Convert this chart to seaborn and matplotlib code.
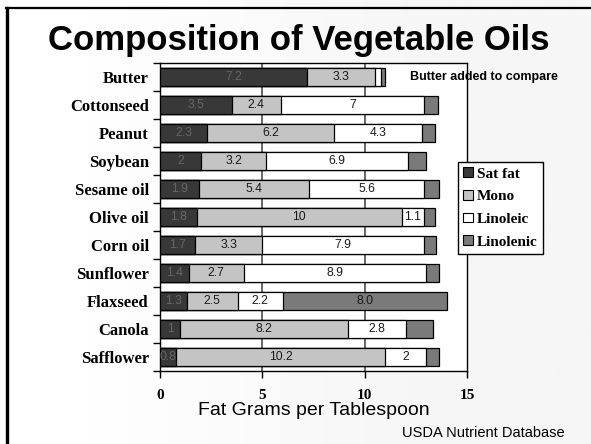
import numpy as np
import pandas as pd
import matplotlib
matplotlib.use("Agg")
import matplotlib.pyplot as plt
from matplotlib.patches import Patch
from matplotlib.lines import Line2D
import seaborn as sns

# ---- data ----
oils = ["Butter", "Cottonseed", "Peanut", "Soybean", "Sesame oil", "Olive oil",
        "Corn oil", "Sunflower", "Flaxseed", "Canola", "Safflower"]
sat_fat = [7.2, 3.5, 2.3, 2.0, 1.9, 1.8, 1.7, 1.4, 1.3, 1.0, 0.8]
mono = [3.3, 2.4, 6.2, 3.2, 5.4, 10.0, 3.3, 2.7, 2.5, 8.2, 10.2]
linoleic = [0.3, 7.0, 4.3, 6.9, 5.6, 1.1, 7.9, 8.9, 2.2, 2.8, 2.0]
linolenic = [0.2, 0.7, 0.65, 0.9, 0.75, 0.55, 0.6, 0.65, 8.0, 1.35, 0.65]
series_names = ["Sat fat", "Mono", "Linoleic", "Linolenic"]
series_colors = ["#383838", "#c4c4c4", "#ffffff", "#7a7a7a"]
sat_labels = ["7.2", "3.5", "2.3", "2", "1.9", "1.8", "1.7", "1.4", "1.3", "1", "0.8"]
mono_labels = ["3.3", "2.4", "6.2", "3.2", "5.4", "10", "3.3", "2.7", "2.5", "8.2", "10.2"]
linoleic_labels = ["", "7", "4.3", "6.9", "5.6", "1.1", "7.9", "8.9", "2.2", "2.8", "2"]
linolenic_labels = ["", "", "", "", "", "", "", "", "8.0", "", ""]
x_ticks = [0, 5, 10, 15]

W, H = 591, 444
fig = plt.figure(figsize=(W / 100, H / 100), dpi=100)

# background gradient (white on left, light grey on right)
bg = fig.add_axes([0, 0, 1, 1], zorder=-10)
grad = np.linspace(0, 1, 256)
grad = np.clip((grad - 0.15) / 0.6, 0, 1)
bg.imshow(grad[None, :], aspect="auto", cmap=matplotlib.colors.LinearSegmentedColormap.from_list(
    "g", ["#ffffff", "#f6f6f6"]), extent=[0, 1, 0, 1])
bg.set_axis_off()

# frame lines
fig.add_artist(Line2D([7 / W, 7 / W], [0, 1 - 8 / H], color="black", lw=2.4, transform=fig.transFigure))
fig.add_artist(Line2D([6 / W, 1], [1 - 8 / H, 1 - 8 / H], color="black", lw=1.6, transform=fig.transFigure))

ax = fig.add_axes([160 / W, 1 - 371 / H, (467 - 160) / W, (371 - 63) / H])
ax.set_facecolor("white")

vals = np.array([sat_fat, mono, linoleic, linolenic])
cums = np.cumsum(vals, axis=0)
df = pd.DataFrame({"oil": oils})
for i, name in enumerate(series_names):
    df["cum_" + name] = cums[i]

# draw from total to smallest so segments stack visually
for i in range(3, -1, -1):
    sns.barplot(data=df, y="oil", x="cum_" + series_names[i], order=oils, orient="h",
                color=series_colors[i], saturation=1, edgecolor="black", linewidth=0.9,
                width=0.65, errorbar=None, ax=ax, zorder=3)

# value labels
label_sets = [sat_labels, mono_labels, linoleic_labels, linolenic_labels]
for i in range(4):
    starts = cums[i] - vals[i]
    for j in range(len(oils)):
        txt = label_sets[i][j]
        if txt:
            ax.text(starts[j] + vals[i][j] / 2, j, txt, ha="center", va="center",
                    fontsize=8.8, family="Liberation Sans",
                    color="#666666" if i == 0 else "#1a1a1a", zorder=5)

ax.set_xlim(0, 15)
ax.set_ylim(len(oils) - 0.5, -0.5)
ax.set_xticks(x_ticks)
ax.set_xticklabels([str(t) for t in x_ticks], fontsize=11, fontweight="bold", family="Liberation Serif")
ax.set_yticks(range(len(oils)))
ax.set_yticklabels(oils, fontsize=12, fontweight="bold", family="Liberation Serif")
ax.set_yticks(np.arange(-0.5, len(oils), 1.0), minor=True)
ax.tick_params(axis="y", which="major", length=0, pad=8)
ax.tick_params(axis="y", which="minor", length=5, width=1, direction="out")
ax.tick_params(axis="x", which="major", length=5, width=1, direction="out", pad=8)
ax.set_ylabel("")
ax.set_xlabel("Fat Grams per Tablespoon", fontsize=14, family="Liberation Sans", labelpad=0)
ax.grid(False)
for xv in [5, 10]:
    ax.axvline(xv, color="#4d4d4d", lw=1.2, zorder=1)
for s in ax.spines.values():
    s.set_color("black")
    s.set_linewidth(1.0)

# legend
handles = [Patch(facecolor=c, edgecolor="black", lw=0.8) for c in series_colors]
leg = fig.legend(handles, series_names, loc="upper left", bbox_to_anchor=(458 / W, 1 - 162 / H),
                 prop={"family": "Liberation Serif", "weight": "bold", "size": 11},
                 handlelength=0.6, handleheight=0.6, handletextpad=0.3, labelspacing=0.62,
                 borderpad=0.35, borderaxespad=0, fancybox=False, framealpha=1,
                 edgecolor="black", facecolor="white")
leg.get_frame().set_linewidth(1.0)

fig.text(0.505, 1 - 50 / H, "Composition of Vegetable Oils", ha="center", va="baseline",
         fontsize=25, fontweight="bold", family="Liberation Sans")
fig.text(410 / W, 1 - 77 / H, "Butter added to compare", ha="left", va="center",
         fontsize=9, fontweight="bold", family="Liberation Sans")
fig.text(565 / W, 1 - 433 / H, "USDA Nutrient Database", ha="right", va="center",
         fontsize=10.5, family="Liberation Sans")

fig.savefig("out.png", dpi=100)
